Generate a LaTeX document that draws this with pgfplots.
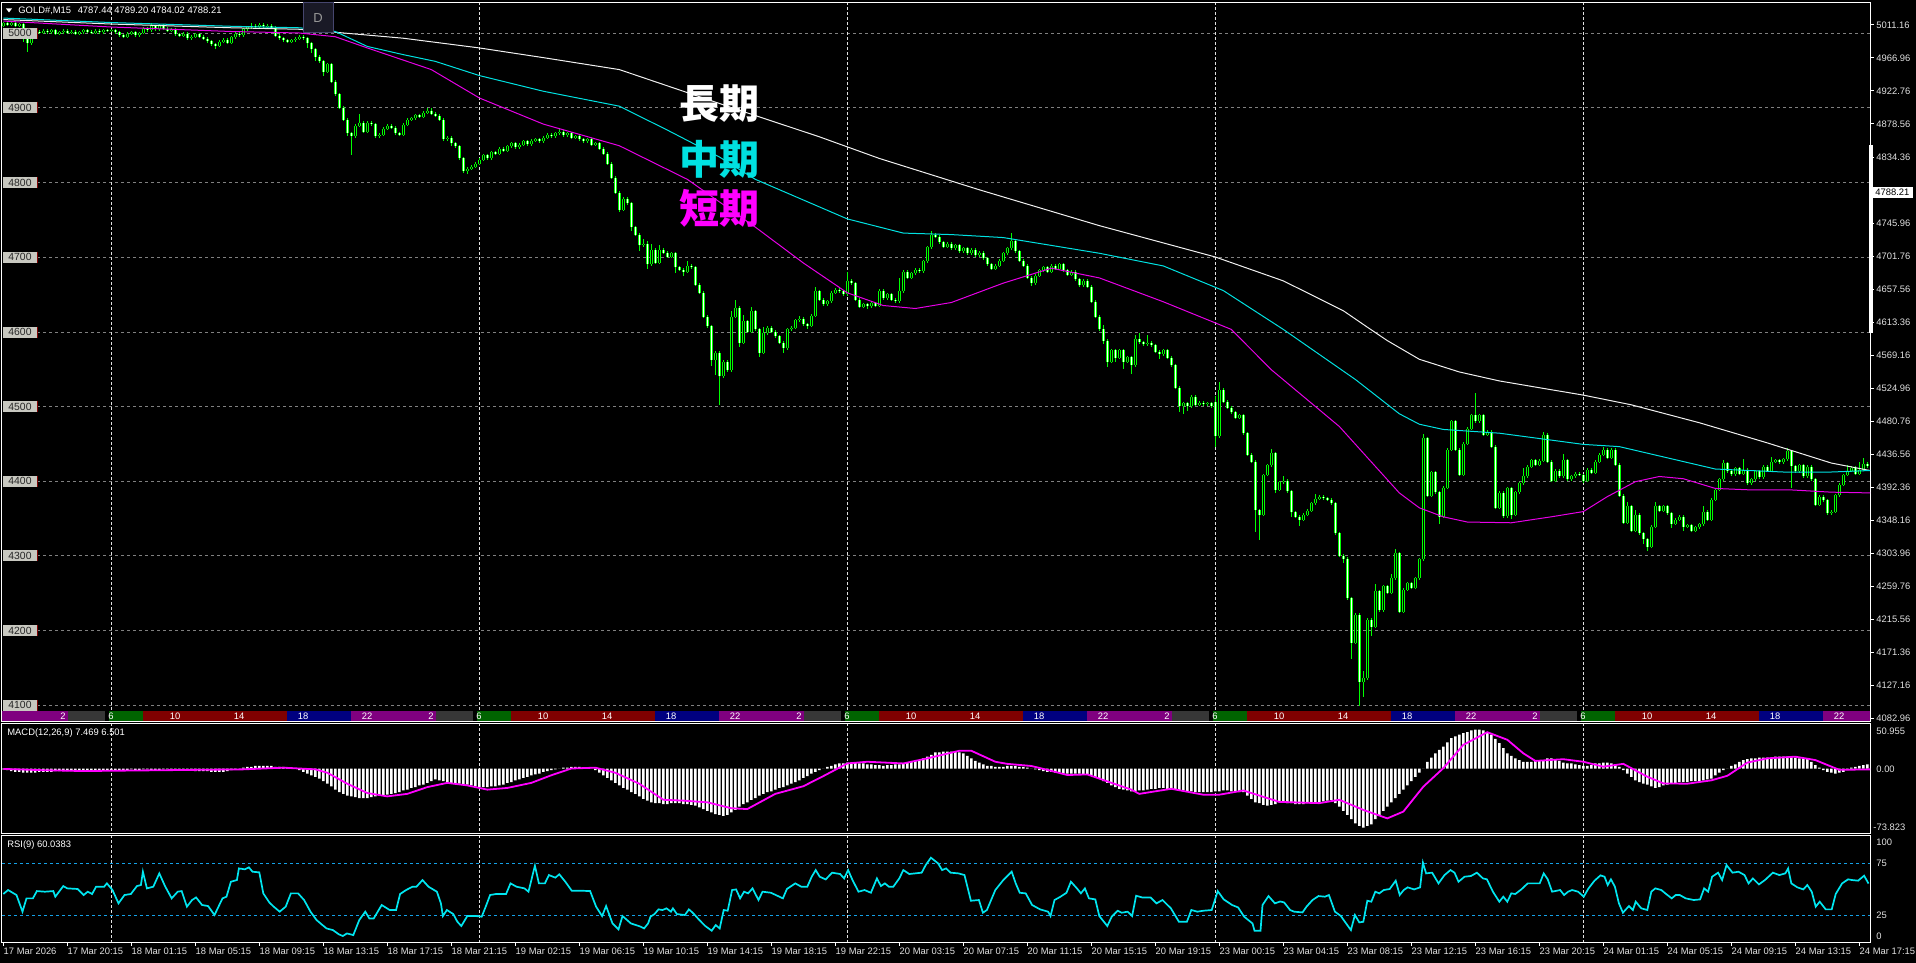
\documentclass[border=0pt]{standalone}
\usepackage{pgfplots}
\pgfplotsset{compat=1.18}
\usepackage{pgfplotstable}
\usepackage{fontspec}
\setmainfont{Liberation Sans}
\newfontfamily\cjk{Noto Sans CJK JP}

\definecolor{cndl}{RGB}{0,255,0}
\definecolor{maw}{RGB}{240,240,240}
\definecolor{mac}{RGB}{0,225,225}
\definecolor{mam}{RGB}{230,0,230}
\definecolor{sig}{RGB}{255,0,255}
\definecolor{rsic}{RGB}{0,230,240}
\definecolor{rsil}{RGB}{20,160,230}
\definecolor{gridg}{RGB}{128,128,128}
\definecolor{dayl}{RGB}{225,225,225}
\definecolor{hpur}{RGB}{128,0,128}
\definecolor{hgray}{RGB}{55,55,55}
\definecolor{hgrn}{RGB}{0,100,0}
\definecolor{hred}{RGB}{128,0,0}
\definecolor{hblu}{RGB}{0,0,128}
\definecolor{boxg}{RGB}{200,200,192}
\definecolor{labc}{RGB}{225,225,225}

\newcommand\tf{\fontsize{4.7pt}{5pt}\selectfont}

% M15 candles: x, body low, body height, lower wick, upper extent from body low, body height if bull
\pgfplotstableread{
x bl bh dn up u
0 5010 3 2 5 3
1 5011 2 2 4 0
2 5011 3 2 5 3
3 5010 4 2 6 0
4 5010 2 2 4 2
5 4992 20 4 22 0
6 4986 6 12 8 0
7 4986 12 2 14 12
8 4998 4 2 6 4
9 5000 2 2 4 0
10 5000 3 2 5 3
11 5001 2 2 4 0
12 5001 3 2 5 3
13 4999 5 2 7 0
14 4999 2 2 4 2
15 5001 2 2 4 2
16 5000 3 2 5 0
17 5000 2 2 4 2
18 4999 3 2 5 0
19 4999 2 2 4 2
20 5001 3 2 5 3
21 5002 2 2 4 0
22 5000 2 2 4 0
23 5000 3 2 5 3
24 5001 2 2 4 0
25 5001 3 2 5 3
26 5003 1 2 3 0
27 5003 1 2 3 1
28 5001 3 2 5 0
29 4997 4 2 6 0
30 4995 2 2 4 0
31 4995 4 2 6 4
32 4999 2 2 4 2
33 4997 4 2 6 0
34 4997 3 2 5 3
35 5000 6 2 8 6
36 5004 2 2 4 0
37 5004 5 2 10 5
38 5005 4 2 6 0
39 5005 5 2 7 5
40 5006 4 2 6 0
41 5003 3 2 5 0
42 5003 2 2 4 2
43 4998 7 2 9 0
44 4996 2 2 4 0
45 4996 3 2 5 3
46 4993 6 2 8 0
47 4993 2 2 4 2
48 4995 3 2 5 3
49 4995 3 2 5 0
50 4992 3 2 5 0
51 4989 3 2 5 0
52 4985 4 2 6 0
53 4983 2 4 4 0
54 4983 5 2 7 5
55 4988 3 2 5 3
56 4987 4 2 6 0
57 4987 7 2 9 7
58 4994 5 2 7 5
59 4997 2 2 4 0
60 4997 8 2 10 8
61 5005 3 2 5 3
62 5008 2 2 6 2
63 5008 2 2 4 0
64 5008 3 2 5 3
65 5009 2 2 4 0
66 5009 1 2 3 1
67 5007 3 2 5 0
68 4996 11 2 13 0
69 4993 3 2 5 0
70 4990 3 2 5 0
71 4988 2 2 4 0
72 4988 2 2 4 2
73 4990 2 2 4 2
74 4992 3 2 5 3
75 4993 2 2 4 0
76 4986 7 6 9 0
77 4978 8 5 10 0
78 4968 10 6 12 0
79 4962 6 2 8 0
80 4948 14 6 16 0
81 4948 10 2 12 10
82 4935 23 2 25 0
83 4918 17 2 19 0
84 4900 18 2 20 0
85 4884 16 2 18 0
86 4866 18 4 20 0
87 4862 4 25 6 0
88 4862 14 2 16 14
89 4876 4 2 16 4
90 4868 12 2 14 0
91 4868 12 2 14 12
92 4878 2 2 4 0
93 4862 16 2 18 0
94 4862 2 3 4 2
95 4864 8 2 10 8
96 4872 4 2 6 4
97 4873 3 2 5 0
98 4866 7 2 9 0
99 4864 2 2 4 0
100 4864 13 2 15 13
101 4877 7 2 9 7
102 4884 2 2 4 2
103 4886 4 2 6 4
104 4888 2 2 4 0
105 4888 5 2 7 5
106 4893 2 2 6 2
107 4892 3 2 8 0
108 4889 3 2 5 0
109 4884 5 2 7 0
110 4858 26 2 28 0
111 4858 2 2 4 2
112 4852 8 3 10 0
113 4848 4 2 6 0
114 4832 16 2 18 0
115 4815 17 2 19 0
116 4815 3 4 5 3
117 4818 3 2 5 3
118 4821 4 2 6 4
119 4825 5 2 7 5
120 4830 6 2 8 6
121 4832 4 2 6 0
122 4832 8 2 10 8
123 4838 2 2 4 0
124 4838 7 2 9 7
125 4842 3 2 5 0
126 4842 6 2 8 6
127 4848 4 2 6 4
128 4847 5 2 7 0
129 4847 3 2 5 3
130 4850 5 2 7 5
131 4851 4 2 6 0
132 4851 5 2 7 5
133 4856 2 2 4 2
134 4855 3 2 5 0
135 4855 5 2 7 5
136 4860 4 2 6 4
137 4862 2 2 4 0
138 4862 4 2 6 4
139 4866 2 2 6 2
140 4863 5 2 7 0
141 4863 3 2 5 3
142 4860 6 2 8 0
143 4860 2 2 4 2
144 4858 4 2 6 0
145 4855 3 2 5 0
146 4855 3 2 5 3
147 4850 8 2 10 0
148 4850 2 2 4 2
149 4845 7 2 9 0
150 4838 7 2 9 0
151 4825 13 2 15 0
152 4806 19 2 21 0
153 4786 20 2 22 0
154 4763 23 3 25 0
155 4763 15 2 17 15
156 4772 6 2 8 0
157 4740 32 5 34 0
158 4730 10 2 12 0
159 4716 14 8 16 0
160 4716 2 2 8 2
161 4690 28 6 32 0
162 4690 20 2 28 20
163 4692 18 2 20 0
164 4692 18 2 24 18
165 4706 4 2 6 0
166 4700 6 2 8 0
167 4700 5 2 7 5
168 4686 19 8 21 0
169 4683 3 2 5 0
170 4680 3 5 5 0
171 4680 8 2 14 8
172 4686 2 2 4 0
173 4663 23 2 25 0
174 4652 11 2 13 0
175 4620 32 2 34 0
176 4607 13 2 15 0
177 4562 45 8 47 0
178 4562 10 20 12 10
179 4540 32 38 34 0
180 4540 20 2 22 20
181 4548 12 2 14 0
182 4548 72 2 80 72
183 4620 12 2 22 12
184 4585 47 6 49 0
185 4585 29 2 37 29
186 4600 14 2 16 0
187 4600 27 2 33 27
188 4603 24 2 26 0
189 4572 31 6 33 0
190 4572 26 2 34 26
191 4598 7 2 9 7
192 4600 5 2 7 0
193 4594 6 2 8 0
194 4585 9 2 11 0
195 4578 7 6 9 0
196 4578 25 2 27 25
197 4603 2 2 4 2
198 4605 10 2 12 10
199 4615 2 2 6 2
200 4610 7 2 9 0
201 4608 2 4 4 0
202 4608 13 2 15 13
203 4621 33 2 39 33
204 4643 11 2 13 0
205 4637 6 2 8 0
206 4637 4 2 6 4
207 4641 11 2 13 11
208 4652 4 2 6 4
209 4654 2 2 4 0
210 4650 4 2 6 0
211 4650 18 2 30 18
212 4665 3 2 5 0
213 4643 22 2 24 0
214 4633 10 2 12 0
215 4633 4 2 6 4
216 4634 3 4 5 0
217 4634 4 2 6 4
218 4635 3 2 5 0
219 4635 20 2 22 20
220 4645 10 2 12 0
221 4645 5 2 7 5
222 4643 7 2 9 0
223 4641 2 2 4 0
224 4641 13 2 31 13
225 4654 26 2 28 26
226 4672 8 2 10 0
227 4672 6 2 8 6
228 4678 5 2 7 5
229 4681 2 2 4 0
230 4681 13 2 15 13
231 4694 19 2 21 19
232 4713 17 2 22 17
233 4727 3 2 5 0
234 4720 7 2 9 0
235 4714 6 2 8 0
236 4714 4 2 6 4
237 4712 6 2 8 0
238 4712 4 2 6 4
239 4708 8 2 10 0
240 4708 4 2 6 4
241 4705 7 2 9 0
242 4705 5 2 7 5
243 4702 8 2 10 0
244 4702 4 2 6 4
245 4698 8 2 10 0
246 4690 8 2 10 0
247 4684 6 2 8 0
248 4684 4 2 6 4
249 4688 7 2 9 7
250 4695 10 2 12 10
251 4705 7 2 9 7
252 4712 10 2 20 10
253 4708 14 2 16 0
254 4695 13 2 15 0
255 4688 7 2 9 0
256 4672 16 2 18 0
257 4665 7 4 9 0
258 4665 10 2 12 10
259 4675 7 2 9 7
260 4682 4 2 6 4
261 4680 6 2 8 0
262 4680 8 2 10 8
263 4684 4 2 6 0
264 4684 6 2 8 6
265 4682 8 2 10 0
266 4676 6 2 8 0
267 4676 4 2 6 4
268 4670 10 2 12 0
269 4662 8 2 10 0
270 4662 6 2 8 6
271 4660 8 2 10 0
272 4640 20 2 22 0
273 4620 20 2 22 0
274 4603 17 2 19 0
275 4588 15 4 21 0
276 4560 28 8 30 0
277 4560 15 2 17 15
278 4565 10 6 12 0
279 4565 10 2 12 10
280 4560 15 10 17 0
281 4560 6 2 8 6
282 4555 11 12 13 0
283 4555 35 2 41 35
284 4586 4 2 12 0
285 4583 3 2 5 0
286 4583 2 2 12 2
287 4582 3 2 5 0
288 4573 9 2 11 0
289 4570 3 6 5 0
290 4570 5 2 7 5
291 4565 10 2 12 0
292 4555 10 2 12 0
293 4525 30 2 32 0
294 4500 25 8 27 0
295 4500 4 10 6 4
296 4500 4 6 6 0
297 4500 13 2 15 13
298 4502 11 2 13 0
299 4502 3 2 5 3
300 4503 2 2 4 0
301 4503 1 2 3 1
302 4500 4 2 6 0
303 4460 46 14 54 0
304 4460 62 2 72 62
305 4506 16 2 18 0
306 4498 8 2 10 0
307 4492 6 2 8 0
308 4485 7 2 9 0
309 4485 3 2 5 3
310 4464 24 2 26 0
311 4435 29 2 31 0
312 4426 9 2 11 0
313 4361 65 30 67 0
314 4355 6 34 8 0
315 4355 53 2 55 53
316 4408 13 2 15 13
317 4421 16 2 22 16
318 4388 49 4 51 0
319 4388 10 2 12 10
320 4398 2 2 8 2
321 4386 14 2 16 0
322 4358 28 6 30 0
323 4352 6 2 8 0
324 4348 4 8 6 0
325 4348 7 2 9 7
326 4355 5 2 7 5
327 4360 10 2 12 10
328 4370 6 2 12 6
329 4376 3 2 5 3
330 4377 2 2 4 0
331 4375 2 2 4 0
332 4370 5 2 7 0
333 4330 40 2 42 0
334 4300 30 2 32 0
335 4296 4 6 6 0
336 4243 53 2 55 0
337 4183 60 22 62 0
338 4183 38 2 40 38
339 4131 90 33 92 0
340 4131 5 20 15 5
341 4136 78 2 80 78
342 4205 9 12 11 0
343 4205 47 2 57 47
344 4227 25 2 27 0
345 4227 32 2 34 32
346 4250 9 2 11 0
347 4250 20 2 26 20
348 4270 33 2 39 33
349 4225 78 2 80 0
350 4225 29 2 31 29
351 4254 9 2 11 9
352 4257 6 2 8 0
353 4257 13 2 15 13
354 4270 25 2 27 25
355 4295 162 2 168 162
356 4380 77 2 79 0
357 4380 32 2 34 32
358 4385 27 2 29 0
359 4352 33 10 35 0
360 4352 39 2 41 39
361 4391 51 2 53 51
362 4442 38 2 40 38
363 4442 38 2 40 0
364 4408 34 2 36 0
365 4408 42 2 44 42
366 4450 20 2 22 20
367 4470 18 2 20 18
368 4480 8 2 38 0
369 4480 8 2 10 8
370 4462 26 2 28 0
371 4462 4 2 6 4
372 4446 20 2 22 0
373 4364 82 2 84 0
374 4364 20 2 22 20
375 4353 31 2 33 0
376 4353 37 2 39 37
377 4355 35 6 37 0
378 4355 30 2 32 30
379 4385 12 2 14 12
380 4397 9 2 21 9
381 4406 13 2 15 13
382 4419 9 2 11 9
383 4422 6 2 8 0
384 4422 5 2 7 5
385 4427 35 2 39 35
386 4426 36 2 38 0
387 4400 26 2 28 0
388 4400 14 2 16 14
389 4406 8 2 10 0
390 4406 22 2 30 22
391 4402 26 2 28 0
392 4402 4 2 6 4
393 4406 4 2 6 4
394 4408 2 2 4 0
395 4400 8 3 10 0
396 4400 15 2 17 15
397 4411 4 2 6 0
398 4411 15 2 17 15
399 4426 9 2 11 9
400 4435 7 2 11 7
401 4431 11 2 13 0
402 4431 11 2 13 11
403 4422 20 2 22 0
404 4380 42 2 44 0
405 4344 36 2 38 0
406 4344 22 2 28 22
407 4333 33 2 35 0
408 4333 22 2 28 22
409 4330 25 2 27 0
410 4322 8 6 10 0
411 4312 10 6 12 0
412 4312 27 2 29 27
413 4339 27 2 33 27
414 4360 6 2 8 0
415 4360 6 2 8 6
416 4357 9 2 11 0
417 4343 14 6 16 0
418 4343 5 2 7 5
419 4348 4 2 6 4
420 4339 13 6 15 0
421 4339 2 2 4 2
422 4333 8 2 10 0
423 4333 5 2 7 5
424 4338 4 2 6 4
425 4342 17 2 25 17
426 4348 11 2 13 0
427 4348 27 2 29 27
428 4375 13 2 15 13
429 4388 14 2 16 14
430 4402 22 2 26 22
431 4413 11 2 13 0
432 4409 4 2 6 0
433 4409 8 2 10 8
434 4410 7 2 9 0
435 4410 5 2 19 5
436 4397 18 2 20 0
437 4397 5 2 7 5
438 4402 11 2 13 11
439 4405 8 2 10 0
440 4405 14 2 16 14
441 4414 5 2 7 0
442 4414 12 2 18 12
443 4426 2 2 4 2
444 4425 3 2 5 0
445 4425 4 2 6 4
446 4429 11 2 15 11
447 4420 20 30 22 0
448 4413 7 2 9 0
449 4413 8 2 10 8
450 4406 15 2 17 0
451 4406 13 2 15 13
452 4402 17 2 19 0
453 4368 34 2 36 0
454 4368 11 2 13 11
455 4374 5 2 7 0
456 4357 17 2 19 0
457 4357 2 2 4 2
458 4359 22 2 24 22
459 4381 14 2 16 14
460 4395 13 2 15 13
461 4408 6 2 14 6
462 4414 4 2 6 4
463 4410 8 2 10 0
464 4410 5 2 15 5
465 4415 8 2 16 8
466 4420 3 2 5 0
}\ohlc

% MACD histogram, one value per bar
\pgfplotstableread[row sep=\\]{
v\\
-1\\-2\\-3\\-4\\-4\\-5\\-5\\-5\\-5\\-4\\
-4\\-4\\-4\\-3\\-3\\-3\\-3\\-3\\-3\\-3\\
-3\\-3\\-2\\-2\\-2\\-2\\-2\\-2\\-2\\-2\\
-2\\-2\\-1\\-2\\-2\\-1\\-1\\-2\\-2\\-2\\
-1\\-1\\-2\\-2\\-2\\-2\\-2\\-2\\-3\\-3\\
-3\\-3\\-4\\-4\\-4\\-4\\-3\\-2\\-1\\0\\
1\\2\\2\\3\\3\\3\\3\\3\\2\\2\\
2\\1\\1\\0\\-2\\-4\\-6\\-8\\-10\\-12\\
-15\\-18\\-21\\-25\\-28\\-30\\-32\\-33\\-34\\-35\\
-35\\-35\\-34\\-33\\-32\\-32\\-31\\-30\\-29\\-28\\
-26\\-25\\-23\\-22\\-20\\-19\\-17\\-15\\-13\\-14\\
-15\\-16\\-17\\-18\\-18\\-19\\-19\\-20\\-21\\-22\\
-22\\-22\\-21\\-21\\-20\\-19\\-17\\-16\\-14\\-13\\
-11\\-10\\-8\\-7\\-6\\-4\\-3\\-2\\-1\\0\\
1\\1\\2\\2\\2\\1\\1\\0\\-2\\-5\\
-8\\-11\\-14\\-17\\-20\\-23\\-25\\-28\\-30\\-33\\
-36\\-38\\-40\\-41\\-41\\-42\\-42\\-41\\-41\\-41\\
-42\\-42\\-43\\-44\\-46\\-48\\-50\\-52\\-54\\-55\\
-56\\-55\\-52\\-49\\-45\\-42\\-40\\-37\\-35\\-32\\
-30\\-28\\-27\\-25\\-23\\-22\\-20\\-18\\-16\\-14\\
-11\\-9\\-6\\-4\\-2\\0\\2\\3\\5\\6\\
6\\7\\7\\7\\6\\6\\5\\5\\4\\4\\
3\\4\\4\\5\\5\\6\\7\\8\\9\\10\\
12\\14\\16\\19\\19\\20\\20\\20\\20\\19\\
18\\15\\12\\9\\7\\5\\3\\3\\2\\2\\
2\\3\\3\\3\\2\\2\\1\\0\\-1\\-2\\
-3\\-4\\-4\\-5\\-5\\-6\\-6\\-6\\-6\\-6\\
-7\\-7\\-8\\-10\\-12\\-15\\-17\\-20\\-22\\-24\\
-25\\-26\\-27\\-27\\-26\\-26\\-25\\-24\\-24\\-23\\
-23\\-24\\-24\\-25\\-26\\-26\\-27\\-27\\-28\\-28\\
-28\\-28\\-28\\-27\\-27\\-26\\-26\\-27\\-27\\-28\\
-28\\-32\\-36\\-40\\-41\\-43\\-44\\-43\\-42\\-40\\
-40\\-41\\-41\\-42\\-42\\-42\\-41\\-41\\-40\\-40\\
-39\\-38\\-37\\-41\\-45\\-50\\-55\\-60\\-65\\-68\\
-70\\-68\\-66\\-60\\-55\\-50\\-45\\-40\\-35\\-30\\
-25\\-20\\-15\\-10\\-5\\0\\8\\13\\18\\22\\
26\\31\\36\\38\\40\\42\\43\\45\\46\\46\\
45\\43\\40\\35\\30\\24\\18\\15\\12\\10\\
8\\8\\8\\9\\9\\10\\12\\12\\11\\9\\
7\\6\\6\\5\\4\\3\\3\\4\\6\\6\\
7\\7\\6\\4\\2\\-2\\-6\\-10\\-14\\-16\\
-18\\-19\\-21\\-23\\-22\\-20\\-19\\-18\\-17\\-16\\
-16\\-16\\-15\\-15\\-15\\-14\\-13\\-12\\-8\\-5\\
-2\\0\\3\\5\\8\\10\\11\\12\\12\\13\\
13\\13\\13\\14\\14\\14\\14\\13\\13\\12\\
12\\11\\8\\4\\1\\-2\\-4\\-5\\-6\\-5\\
-4\\-2\\1\\2\\3\\4\\5\\
}\hist

\pgfplotsset{panel/.style={scale only axis, width=934pt, xmin=-0.325, xmax=466.675,
  axis lines=box, axis line style={white, line width=0.5pt}, ticks=none, anchor=south west}}

\begin{document}
\begin{tikzpicture}
\fill[black] (0,0) rectangle (958pt,-481.5pt);
\path[use as bounding box] (0,0) rectangle (958pt,-481.5pt);

% grid behind the data (pixel units)
\begin{scope}[x=0.5pt,y=-0.5pt]
\foreach \yy in {33.3,108.0,182.6,257.3,332.0,406.6,481.3,555.9,630.6,705.3}
  \draw[gridg, line width=0.5pt, dash pattern=on 1.5pt off 1.5pt] (37,\yy) -- (1870,\yy);
\foreach \xx in {111,479,847,1215,1583} {
  \draw[dayl, line width=0.5pt, dash pattern=on 1.5pt off 1pt] (\xx,2) -- (\xx,711);
  \draw[dayl, line width=0.5pt, dash pattern=on 1.5pt off 1pt] (\xx,723) -- (\xx,833);
  \draw[dayl, line width=0.5pt, dash pattern=on 1.5pt off 1pt] (\xx,835) -- (\xx,942);
}
\draw[rsil, line width=0.5pt, dash pattern=on 1.5pt off 1.5pt] (2,863) -- (1870,863) (2,915) -- (1870,915);
\end{scope}

% price panel
\begin{axis}[panel, at={(1pt,-360.5pt)}, height=359.5pt, ymin=4078.5, ymax=5041.5]
\addplot[draw=none, mark=none, error bars/.cd, y dir=both, y explicit, error mark=none,
  error bar style={draw=cndl, line width=0.5pt}]
  table[x=x, y=bl, y error plus=up, y error minus=dn] {\ohlc};
\addplot[draw=none, mark=none, error bars/.cd, y dir=plus, y explicit, error mark=none,
  error bar style={draw=cndl, line width=1.5pt}]
  table[x=x, y=bl, y error plus=bh] {\ohlc};
\addplot[draw=none, mark=none, error bars/.cd, y dir=plus, y explicit, error mark=none,
  error bar style={draw=white, line width=0.5pt}]
  table[x=x, y=bl, y error plus=bh] {\ohlc};
\addplot[draw=none, mark=none, error bars/.cd, y dir=plus, y explicit, error mark=none,
  error bar style={draw=black, line width=0.5pt}]
  table[x=x, y=bl, y error plus=u] {\ohlc};
% long, medium, short moving averages
\addplot[maw, line width=0.5pt] coordinates {(0,5018)(27,5012)(57,5007)(74,5005)(83,5001)(100,4993)(119,4980)(135,4967)(154,4951)(170,4922)(186,4893)(204,4861)(219,4832)(244,4790)(274,4742)(303,4700)(320,4668)(335,4628)(341,4606)(346,4588)(354,4563)(364,4546)(374,4534)(385,4524)(395,4515)(407,4502)(424,4478)(441,4451)(457,4424)(466.7,4414)};
\addplot[mac, line width=0.5pt] coordinates {(0,5020)(27,5014)(57,5009)(74,5007)(83,5002)(91,4982)(100,4971)(108,4962)(119,4943)(135,4922)(154,4902)(166,4870)(179,4834)(188,4804)(211,4751)(225,4732)(237,4730)(250,4726)(274,4705)(290,4688)(305,4655)(320,4603)(338,4536)(349,4490)(354,4476)(360,4469)(374,4464)(395,4449)(404,4446)(416,4431)(428,4416)(445,4412)(457,4412)(466.7,4414)};
\addplot[mam, line width=0.5pt] coordinates {(0,5016)(27,5008)(57,5002)(74,5000)(83,4995)(91,4980)(107,4951)(119,4913)(135,4878)(154,4849)(171,4804)(188,4740)(200,4692)(211,4652)(220,4635)(228,4631)(237,4639)(250,4665)(262,4685)(274,4672)(290,4640)(307,4603)(317,4549)(334,4473)(349,4384)(354,4364)(360,4352)(366,4345)(377,4344)(387,4352)(395,4359)(401,4379)(408,4399)(414,4406)(420,4403)(428,4390)(437,4388)(447,4388)(457,4385)(466.7,4384)};
\end{axis}

% MACD panel
\begin{axis}[panel, at={(1pt,-416.5pt)}, height=55pt, ymin=-76.33, ymax=53.85]
\addplot[ybar, bar width=1.2pt, fill=white, draw=none] table[x expr=\coordindex, y=v] {\hist};
\addplot[sig, line width=0.9pt] coordinates {(0,-0.5)(10,-2)(20,-3)(40,-2)(60,-1)(70,1)(78,-1)(81,-5)(86,-18)(91,-29)(96,-33)(101,-30)(106,-22)(111,-17)(116,-20)(121,-25)(126,-23)(132,-17)(137,-8)(142,0)(148,1)(153,-5)(159,-18)(165,-37)(170,-38)(176,-40)(182,-47)(186,-48)(193,-30)(200,-21)(205,-9)(211,6)(216,8)(225,6)(231,12)(239,21)(242,21)(248,8)(251,5.5)(257,3)(261,-1.6)(266,-7.7)(271,-7)(275,-13.6)(282,-25)(284,-30)(292,-24)(300,-31)(304,-31)(310,-26)(319,-39.5)(329,-41)(334,-37)(340,-49)(346,-59)(350,-51)(355,-21.5)(360,0.4)(365,28)(371,43)(376,34)(380,18)(383,9)(390,11)(395,8)(400,2.2)(405,5.5)(411,-9.7)(415,-17.6)(421,-18)(427,-14)(431,-8.6)(436,7)(441,12)(448,14)(453,10)(459,-1.6)(466.7,-1)};
\end{axis}

% RSI panel
\begin{axis}[panel, at={(1pt,-471pt)}, height=53.5pt, ymin=-0.96, ymax=101.9]
\addplot[rsic, line width=0.85pt] coordinates {(0,45.2)(1.2,49.0)(3.3,44.2)(4.8,28.2)(5.8,41.0)(7.4,41.0)(8.4,48.0)(10.4,47.4)(12.5,48.0)(13,42.6)(15,52.8)(16,50.6)(18.6,50.0)(20.1,44.2)(21.1,47.4)(22.2,45.2)(23.2,52.2)(25.2,52.2)(25.9,55.4)(27.3,49.0)(28.8,36.2)(30.3,44.2)(31.9,45.2)(33.4,52.8)(34.4,53.8)(34.9,66.6)(35.9,50.6)(37.5,52.2)(39,65.0)(40.5,52.2)(42.1,41.0)(43.6,47.4)(44.6,48.0)(45.9,33.0)(47.2,39.4)(48.2,41.9)(49.7,34.6)(51.2,33.6)(52.8,25.0)(54.8,41.0)(55.8,42.6)(56.9,57.0)(58.4,58.6)(58.9,69.8)(60.4,68.9)(61.4,70.8)(62.3,66.6)(64,66.0)(65,45.8)(66.5,37.1)(67.6,33.0)(69.1,28.2)(70.6,33.0)(71.9,45.8)(73.7,45.8)(75.2,39.4)(76.8,28.2)(78.3,20.2)(79.8,15.3)(80.8,12.1)(82.4,10.5)(83.9,6.4)(84.9,4.8)(85.9,7.3)(87.5,5.7)(89,20.2)(90.5,28.2)(91.5,21.7)(92.6,21.7)(94.6,34.6)(96.6,29.8)(98.2,29.8)(99.2,45.2)(100.7,49.0)(102.3,52.2)(103.3,52.2)(104.8,58.6)(106.3,52.2)(108.4,47.4)(109.4,36.2)(109.9,24.0)(110.9,29.8)(112.5,25.9)(113.5,18.6)(114.5,14.4)(116,24.0)(118.1,24.0)(119.6,23.4)(120.6,33.0)(121.7,44.2)(123.2,45.2)(125.7,45.2)(126.8,55.4)(128.3,52.2)(130.3,50.6)(131.3,47.4)(132.9,72.4)(133.9,55.4)(135.4,55.4)(136.4,63.4)(138,60.9)(139,64.1)(140.5,57.0)(142.1,48.4)(144.1,48.4)(146.7,48.0)(148.2,33.0)(149.7,24.0)(150.7,33.6)(152.3,16.9)(153.8,11.2)(154.8,24.0)(156.9,16.9)(159.2,14)(160.2,12.1)(161.2,16.9)(161.8,23.4)(162.8,25.9)(163.8,30.4)(164.8,29.8)(165.8,31.4)(166.9,28.2)(167.4,31.4)(168.4,25.9)(170.4,25.0)(171.4,30.4)(172.5,26.6)(174,20.2)(175.5,14.4)(177.1,9.9)(178.1,15.3)(179.1,12.1)(180.1,29.8)(181.1,29.1)(182.2,49.0)(183.2,49.6)(184.2,41.0)(185.2,47.4)(186.2,45.8)(187.3,50.6)(188.8,39.4)(189.8,47.4)(191.9,46.4)(194.9,41.0)(195.9,50.0)(198,55.4)(199.5,52.2)(201,52.2)(202.1,61.8)(203.1,68.2)(204.1,61.8)(205.6,59.2)(207.2,65.7)(209.2,64.4)(210.2,60.2)(211.2,68.2)(212.3,58.6)(213.8,47.4)(215.3,49.0)(216.9,46.4)(218.4,60.2)(219.4,52.8)(220.4,55.4)(221.4,52.2)(222.5,52.2)(224,60.2)(225,68.2)(226.5,64.4)(229.6,65.7)(230.6,73.0)(231.9,80.1)(233.7,74.6)(234.7,68.2)(235.7,69.8)(236.8,65.7)(238.8,65.0)(240.3,63.4)(241.9,38.7)(243.9,39.4)(244.9,27.2)(245.9,29.8)(248,49.0)(250,58.6)(252.1,66.6)(253.1,55.4)(254.1,46.4)(255.6,45.8)(257.2,34.6)(259.2,30.4)(261.2,28.2)(261.8,24.0)(262.8,39.4)(264.3,42.6)(265.8,46.4)(266.9,57.0)(268.4,50.6)(269.4,45.8)(270.4,50.6)(271.4,41.0)(273,40.0)(274,24.0)(276,14.4)(277.1,23.4)(278.6,29.1)(279.6,27.2)(281.1,28.2)(282.2,24.0)(283.2,43.5)(284.7,41.9)(286.8,41.9)(288.3,36.2)(289.8,39.4)(291.9,31.4)(293.9,18.5)(295.9,18.5)(297,29.8)(298.5,28.2)(300,29.1)(302.1,29.8)(303.6,48.0)(305.1,40.0)(307.2,34.6)(308.7,32.3)(310.2,23.4)(312.3,16.9)(312.8,9.9)(314.3,9.9)(314.8,34.6)(316.3,43.2)(317.9,36.2)(319.2,38)(320.2,37.1)(321.7,29.8)(322.7,28.2)(324.8,27.5)(325.8,33.0)(327.3,39.4)(328.8,43.2)(330.4,42.6)(331.4,44.2)(332.9,28.2)(334.4,24.0)(335.4,18.5)(336.9,10.5)(337.9,25.0)(339,17.9)(340,18.5)(341,38.7)(342,37.8)(343,47.4)(344,45.8)(345.1,49.0)(346.6,50.0)(348.1,58.0)(349.1,44.2)(350.1,49.0)(351.1,51.6)(352.7,49.6)(354.2,51.6)(354.9,75.3)(355.7,65.0)(357.2,65.7)(358.8,55.4)(360.3,63.4)(361.8,68.2)(362.8,65.7)(363.8,57.0)(365.3,61.8)(366.9,62.5)(368.4,65.7)(369.9,60.2)(370.9,59.3)(372.4,47.4)(374,37.8)(375,42.6)(376,37.8)(377,45.8)(378,45.2)(379.5,49.6)(381.1,55.4)(384.1,55.4)(385.1,65.0)(386.1,59.3)(387.2,47.4)(389.2,49.0)(390.2,44.2)(391.2,47.4)(392.2,49.0)(393.7,47.4)(395.1,42.6)(396.3,50.6)(397.8,58.0)(399.3,63.1)(400.3,61.8)(401.1,53.8)(401.9,59.3)(402.9,52.2)(403.9,36.2)(404.9,27.2)(406.4,33.6)(407.4,29.8)(408.1,37.8)(409.5,31.4)(411,29.8)(412,47.4)(413,50.6)(414.5,49.0)(415.5,45.8)(417.1,41.0)(418.1,44.2)(419.1,44.2)(420.6,41.0)(422.6,39.4)(424.2,40.0)(425.2,50.6)(426.2,47.4)(427.2,61.8)(428.7,65.7)(429.7,58.6)(430.8,73.0)(432.3,65.7)(433.8,66.6)(435.3,63.4)(436.3,55.4)(437.4,60.2)(438.9,54.4)(440.4,58.6)(442.4,65.7)(444,63.4)(445.5,65.0)(446.2,69.8)(447,55.4)(448.5,51.6)(450,49.6)(451,53.8)(452.1,47.4)(453.1,33.0)(454.1,37.8)(455.6,30.4)(457.1,30.4)(458.1,45.2)(459.7,55.4)(461.2,59.3)(462.2,58.6)(463.7,58.0)(465.2,62.8)(466.3,55.2)};
\end{axis}

% overlays (pixel units)
\begin{scope}[x=0.5pt,y=-0.5pt]
% hour band
\foreach \a/\b in {2/68,351/436,719/804,1087/1172,1455/1540,1823/1869.5} \fill[hpur] (\a,711) rectangle (\b,720.5);
\foreach \a/\b in {68/105,436/473,804/841,1172/1209,1540/1577} \fill[hgray] (\a,711) rectangle (\b,720.5);
\foreach \a/\b in {109/143,477/511,845/879,1213/1247,1581/1615} \fill[hgrn] (\a,711) rectangle (\b,720.5);
\foreach \a/\b in {143/287,511/655,879/1023,1247/1391,1615/1759} \fill[hred] (\a,711) rectangle (\b,720.5);
\foreach \a/\b in {287/351,655/719,1023/1087,1391/1455,1759/1823} \fill[hblu] (\a,711) rectangle (\b,720.5);
\foreach \xx/\lab in {63/2,111/6,175/10,239/14,303/18,367/22,431/2,479/6,543/10,607/14,671/18,735/22,799/2,847/6,911/10,975/14,1039/18,1103/22,1167/2,1215/6,1279/10,1343/14,1407/18,1471/22,1535/2,1583/6,1647/10,1711/14,1775/18,1839/22}
  \node[text=white, font=\tf, inner sep=0pt] at (\xx,716) {\lab};
% left price boxes
\foreach \yy/\lab in {33.3/5000,108.0/4900,182.6/4800,257.3/4700,332.0/4600,406.6/4500,481.3/4400,555.9/4300,630.6/4200,705.3/4100} {
  \fill[boxg] (3,\yy-5.5) rectangle (37,\yy+5.5);
  \draw[red!50!black, line width=0.5pt] (37,\yy-5.5) -- (37,\yy+5.5);
  \node[text=black!85, font=\fontsize{5.2pt}{5.5pt}\selectfont, inner sep=0pt] at (20,\yy) {\lab};
}
% right price scale
\fill[white] (1869,145) rectangle (1872.5,333);
\foreach \yy/\lab in {25/5011.16,58/4966.96,91/4922.76,124/4878.56,157/4834.36,223/4745.96,256/4701.76,289/4657.56,322/4613.36,355/4569.16,388/4524.96,421/4480.76,454/4436.56,487/4392.36,520/4348.16,553/4303.96,586/4259.76,619/4215.56,652/4171.36,685/4127.16,718/4082.96} {
  \draw[white, line width=0.5pt] (1870,\yy) -- (1874,\yy);
  \node[anchor=west, text=labc, font=\tf, inner sep=0pt] at (1876,\yy) {\lab};
}
\fill[white] (1872,187) rectangle (1913,198);
\node[anchor=west, text=black, font=\tf, inner sep=0pt] at (1875,192.5) {4788.21};
% indicator scales
\node[anchor=west, text=labc, font=\tf, inner sep=0pt] at (1876,731) {50.955};
\node[anchor=west, text=labc, font=\tf, inner sep=0pt] at (1876,769) {0.00};
\node[anchor=west, text=labc, font=\tf, inner sep=0pt] at (1873,827) {-73.823};
\node[anchor=west, text=labc, font=\tf, inner sep=0pt] at (1876,842) {100};
\node[anchor=west, text=labc, font=\tf, inner sep=0pt] at (1876,863) {75};
\node[anchor=west, text=labc, font=\tf, inner sep=0pt] at (1876,915) {25};
\node[anchor=west, text=labc, font=\tf, inner sep=0pt] at (1876,936) {0};
% time scale
\foreach \i/\lab in {0/17 Mar 2026,1/17 Mar 20:15,2/18 Mar 01:15,3/18 Mar 05:15,4/18 Mar 09:15,5/18 Mar 13:15,6/18 Mar 17:15,7/18 Mar 21:15,8/19 Mar 02:15,9/19 Mar 06:15,10/19 Mar 10:15,11/19 Mar 14:15,12/19 Mar 18:15,13/19 Mar 22:15,14/20 Mar 03:15,15/20 Mar 07:15,16/20 Mar 11:15,17/20 Mar 15:15,18/20 Mar 19:15,19/23 Mar 00:15,20/23 Mar 04:15,21/23 Mar 08:15,22/23 Mar 12:15,23/23 Mar 16:15,24/23 Mar 20:15,25/24 Mar 01:15,26/24 Mar 05:15,27/24 Mar 09:15,28/24 Mar 13:15,29/24 Mar 17:15} {
  \draw[white, line width=0.5pt] (3.3+64*\i,942) -- (3.3+64*\i,946);
  \node[anchor=north west, text=labc, font=\tf, inner sep=0pt] at (3.3+64*\i,947.5) {\lab};
}
% titles
\fill[white] (6,8.5) -- (12,8.5) -- (9,12.5) -- cycle;
\node[anchor=west, text=white, font=\tf, inner sep=0pt] at (18,10.5) {GOLD\#,M15\hspace{2pt} 4787.44 4789.20 4784.02 4788.21};
\node[anchor=west, text=white, font=\tf, inner sep=0pt] at (7,732.7) {MACD(12,26,9) 7.469 6.501};
\node[anchor=west, text=white, font=\tf, inner sep=0pt] at (7,845) {RSI(9) 60.0383};
% period button
\filldraw[fill={rgb,255:red,25;green,25;blue,38}, draw={rgb,255:red,70;green,70;blue,110}, line width=0.5pt] (303,3) rectangle (333,33);
\node[text=gray!80, font=\fontsize{6.5pt}{7pt}\selectfont, inner sep=0pt] at (318,18) {D};
% MA legend
\node[text=white, font={\cjk\bfseries\fontsize{20pt}{22pt}\selectfont}, inner sep=0pt] at (719,104) {長期};
\node[text=mac, font={\cjk\bfseries\fontsize{20pt}{22pt}\selectfont}, inner sep=0pt] at (719,159) {中期};
\node[text=sig, font={\cjk\bfseries\fontsize{20pt}{22pt}\selectfont}, inner sep=0pt] at (719,208.5) {短期};
\end{scope}
\end{tikzpicture}
\end{document}
